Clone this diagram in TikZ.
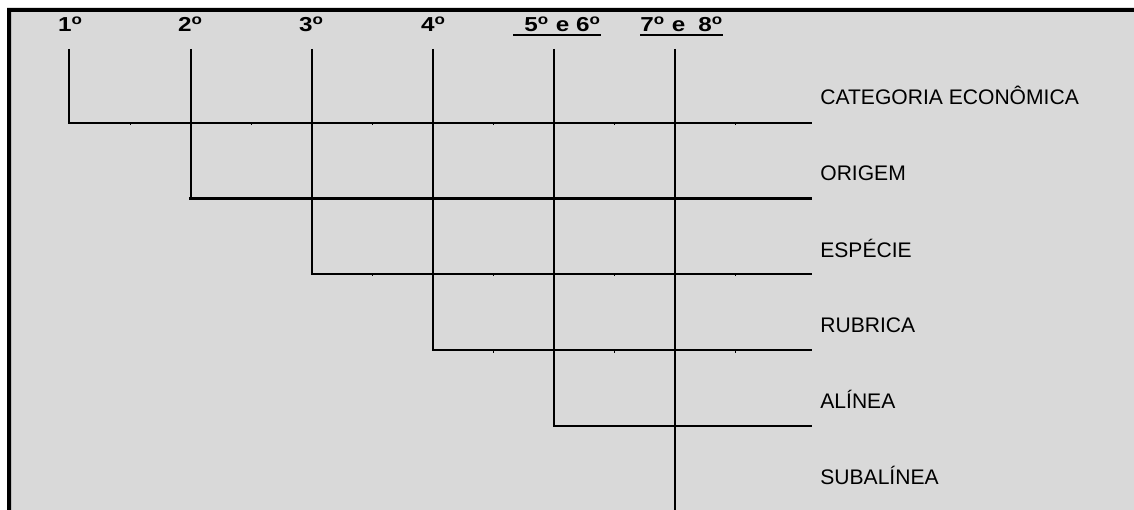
\documentclass[tikz,border=0pt]{standalone}
\usepackage{fontspec}
\setmainfont{Liberation Sans}
\newfontfamily\largo{Liberation Sans}[FakeStretch=1.2]
\definecolor{fundo}{HTML}{D9D9D9}
\newcommand{\ordo}{\textsuperscript{o}}

\begin{document}
\begin{tikzpicture}[x=0.02cm,y=-0.02cm,
  nivel/.style={font=\largo\bfseries\fontsize{11.5}{12}\selectfont,inner sep=0pt,anchor=base},
  rotulo/.style={font=\fontsize{12}{14}\selectfont,inner sep=0pt,anchor=base west},
  haste/.style={line width=0.04cm},
  fina/.style={line width=0.032cm,line cap=rect},
  grossa/.style={line width=0.055cm,line cap=rect},
  tique/.style={line width=0.02cm}]
\useasboundingbox (0,0) rectangle (1134,510);
\fill[fundo] (7,8) rectangle (1134,510);
\fill (7,8) rectangle (1134,12) (7,8) rectangle (11,510);
% niveis
\node[nivel] (n1) at (70.5,31.7) {1\ordo};
\node[nivel] (n2) at (190.5,31.7) {2\ordo};
\node[nivel] (n3) at (311.5,31.7) {3\ordo};
\node[nivel] (n4) at (433.5,31.7) {4\ordo};
\node[nivel,anchor=base west] (n5) at (513,31.7) {\hspace*{0.22cm}5\ordo{} e 6\ordo};
\node[nivel,anchor=base west] (n7) at (640,31.7) {7\ordo{} e\hspace{0.26cm}8\ordo};
\draw[grossa,line cap=butt]([yshift=-0.056cm]n5.south west)--([yshift=-0.056cm]n5.south east);
\draw[grossa,line cap=butt]([yshift=-0.056cm]n7.south west)--([yshift=-0.056cm]n7.south east);
% hastes
\foreach \i/\x/\y in {1/69/123,2/190.5/198.5,3/312/274,4/433/350,5/554/426}{
  \coordinate (t\i) at (\x,49);
  \coordinate (c\i) at (\x,\y);
  \coordinate (e\i) at (811,\y);
}
\coordinate (t6) at (675,49);
\coordinate (b6) at (675,510);
\foreach \i in {1,...,5} \draw[haste](t\i)--(c\i);
\draw[haste](t6)--(b6);
\foreach \i/\s in {1/fina,2/grossa,3/fina,4/fina,5/grossa} \draw[\s](c\i)--(e\i);
\foreach \x in {130,251,372,493,614,735} \draw[tique](\x,123)--++(0,2.5);
\foreach \x in {372,493,614,735} \draw[tique](\x,274)--++(0,2.5);
\foreach \x in {493,614,735} \draw[tique](\x,350)--++(0,2.5);
% rotulos
\foreach \t/\y/\n in {CATEGORIA ECONÔMICA/105/r1,ORIGEM/181/r2,ESPÉCIE/257/r3,RUBRICA/333/r4,ALÍNEA/408/r5,SUBALÍNEA/484/r6}
  \node[rotulo] (\n) at (820,\y) {\t};
\end{tikzpicture}
\end{document}
